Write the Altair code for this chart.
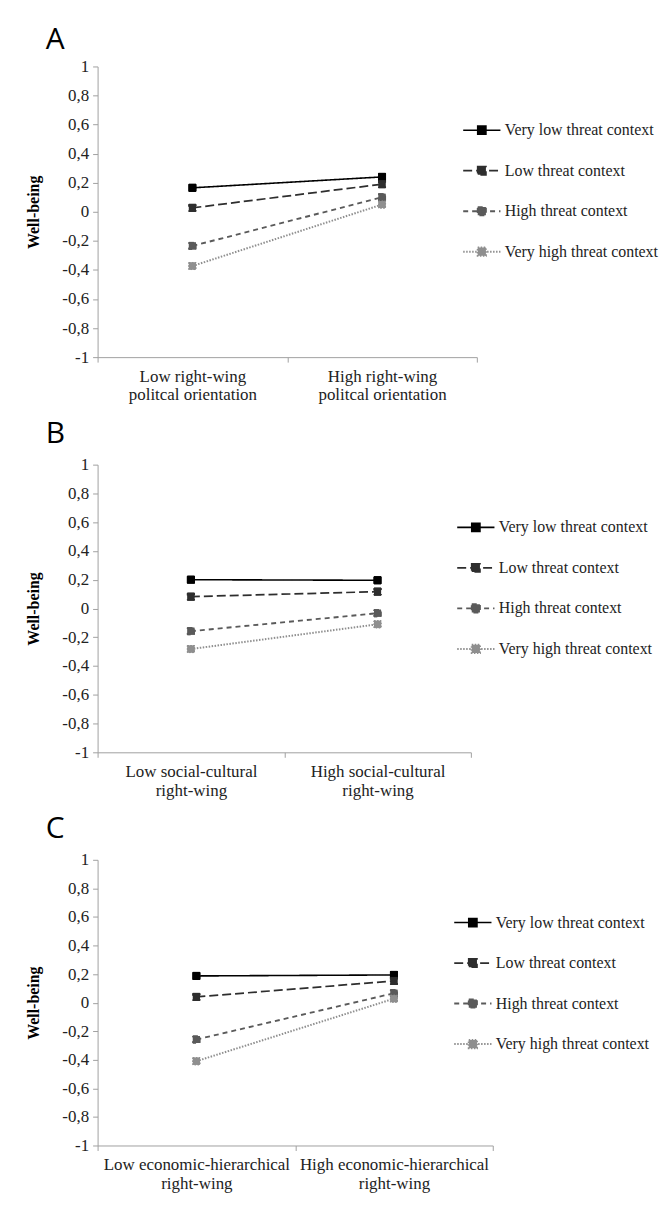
import altair as alt
import pandas as pd

series = ["Very low threat context", "Low threat context",
          "High threat context", "Very high threat context"]
colors = ["#000000", "#2e2e2e", "#5a5a5a", "#8f8f8f"]
dashes = [[1, 0], [9, 4], [5, 4], [1.5, 1.5]]
widths = [1.6, 2.0, 2.0, 1.2]

cats_a = ["Low right-wing|politcal orientation", "High right-wing|politcal orientation"]
cats_b = ["Low social-cultural|right-wing", "High social-cultural|right-wing"]
cats_c = ["Low economic-hierarchical|right-wing", "High economic-hierarchical|right-wing"]

a_low = [0.165, 0.027, -0.235, -0.373]
a_high = [0.24, 0.19, 0.10, 0.05]
b_low = [0.20, 0.082, -0.158, -0.282]
b_high = [0.196, 0.117, -0.033, -0.11]
c_low = [0.187, 0.04, -0.258, -0.41]
c_high = [0.194, 0.152, 0.066, 0.028]

yticks = [1, 0.8, 0.6, 0.4, 0.2, 0, -0.2, -0.4, -0.6, -0.8, -1]

SYMBOL = "M-1,0H1M-0.22,-0.22H0.22V0.22H-0.22Z"
SERIF = "Liberation Serif"


def panel(letter, cats, low, high, width, height, lx, ly, toff):
    rows = []
    for s, lo, hi in zip(series, low, high):
        rows.append({"cat": cats[0], "series": s, "value": lo})
        rows.append({"cat": cats[1], "series": s, "value": hi})
    df = pd.DataFrame(rows)

    legend = alt.Legend(
        title=None, orient="none", legendX=lx, legendY=ly, padding=0,
        symbolType=SYMBOL, symbolSize=1400, symbolStrokeWidth=1.6,
        labelFont=SERIF, labelFontSize=16, labelColor="#222222",
        rowPadding=12.7, labelOffset=3, symbolOpacity=1, labelLimit=400,
    )
    x = alt.X(
        "cat:N", sort=cats,
        scale=alt.Scale(type="band", paddingInner=0, paddingOuter=0),
        axis=alt.Axis(
            title=None, labelAngle=0, labelExpr="split(datum.label, '|')",
            tickBand="extent", labelFontSize=17, labelLimit=400,
            labelLineHeight=19, labelPadding=6, labelBaseline="top",
        ),
    )
    y = alt.Y(
        "value:Q", scale=alt.Scale(domain=[-1, 1], nice=False, zero=False),
        axis=alt.Axis(
            values=yticks, title="Well-being", grid=False,
            labelExpr="replace(replace(format(datum.value, '.1~f'), '.', ','), '\u2212', '-')",
            labelFontSize=17, labelPadding=4, titleFontSize=16,
            titleFontWeight="bold", titleColor="#000000", titlePadding=20,
        ),
    )
    sort = series
    stroke_scale = alt.Scale(domain=series, range=colors)
    dash_scale = alt.Scale(domain=series, range=dashes)

    def points(leg):
        return alt.Chart(df).mark_point(shape="square", filled=True, size=50, opacity=1,
                                        strokeWidth=1).encode(
            x=x, y=y,
            fill=alt.Fill("series:N", sort=sort, scale=stroke_scale, legend=leg),
            stroke=alt.Stroke("series:N", sort=sort, scale=stroke_scale, legend=leg),
            strokeDash=alt.StrokeDash("series:N", sort=sort, scale=dash_scale, legend=leg),
        )

    lines = alt.Chart(df).mark_line().encode(
        x=x, y=y,
        stroke=alt.Stroke("series:N", sort=sort, scale=stroke_scale, legend=None),
        strokeDash=alt.StrokeDash("series:N", sort=sort, scale=dash_scale, legend=None),
        strokeWidth=alt.StrokeWidth("series:N", sort=sort,
                                    scale=alt.Scale(domain=series, range=widths), legend=None),
    )
    return alt.layer(points(legend), lines, points(None)).properties(
        width=width, height=height,
        title=alt.TitleParams(text=letter, anchor="start", frame="group", dx=-52,
                              fontSize=30, font="Open Sans", fontWeight="normal",
                              color="#000000", baseline="alphabetic", offset=toff),
    )


pa = panel("A", cats_a, a_low, a_high, 381, 292, 366, 44, -21)
pb = panel("B", cats_b, b_low, b_high, 375, 289, 360, 43, -17)
pc = panel("C", cats_c, c_low, c_high, 397, 287, 357, 43, -17)

chart = alt.vconcat(pa, pb, pc, spacing=16).resolve_scale(
    x="independent", fill="independent", stroke="independent",
    strokeDash="independent", strokeWidth="independent",
).resolve_legend(
    fill="independent", stroke="independent", strokeDash="independent",
).properties(
    padding={"left": 18, "top": 14, "right": 0, "bottom": 2},
).configure(
    background="white",
    font=SERIF,
).configure_view(
    stroke=None,
).configure_axis(
    labelFont=SERIF, titleFont=SERIF, labelColor="#222222",
    tickSize=5, tickColor="#a0a0a0", domainColor="#a0a0a0",
).configure_legend(
    labelFont=SERIF,
)

chart.save("out.html", embed_options={"renderer": "svg", "actions": False})
